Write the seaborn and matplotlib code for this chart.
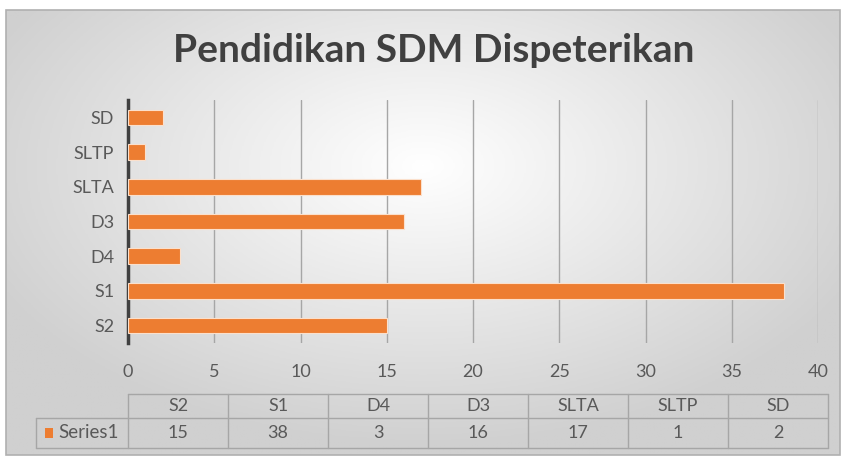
import numpy as np
import pandas as pd
import matplotlib
matplotlib.use("Agg")
import matplotlib.pyplot as plt
from matplotlib.patches import Rectangle
import seaborn as sns

# --- Dados --- #
kategori = ["S2", "S1", "D4", "D3", "SLTA", "SLTP", "SD"]
jumlah = [15, 38, 3, 16, 17, 1, 2]
nama_seri = "Series1"
judul = "Pendidikan SDM Dispeterikan"
xticks = [0, 5, 10, 15, 20, 25, 30, 35, 40]

ORANYE = "#ED7D31"
TEKS = "#595959"
W, H = 844, 463

sns.set_theme(style="white")
plt.rcParams["font.family"] = ["Lato", "DejaVu Sans"]

fig = plt.figure(figsize=(W / 100, H / 100), dpi=100)
fig.patch.set_facecolor("white")

# latar gradien (radial, terang di tengah)
bg = fig.add_axes([6 / W, 1 - 455 / H, 834 / W, 445 / H], zorder=0)
yy, xx = np.mgrid[-1:1:300j, -1:1:600j]
r = np.sqrt((xx / 1.0) ** 2 + ((yy + 0.3) / 1.1) ** 2)
bg.imshow(np.clip(r, 0, 1.2), cmap=sns.blend_palette(["#ffffff", "#d0d0d0"], as_cmap=True),
          aspect="auto", extent=[0, 1, 0, 1], vmin=0, vmax=1.15)
bg.set_axis_off()
fig.add_artist(Rectangle((6 / W, 1 - 455 / H), 834 / W, 445 / H, transform=fig.transFigure,
                         fill=False, edgecolor="#b0b0b0", lw=1.2, zorder=5))

# grafik batang
ax = fig.add_axes([128 / W, 1 - 343 / H, 690 / W, 243 / H], zorder=2)
ax.patch.set_alpha(0)
df = pd.DataFrame({"kategori": kategori, "jumlah": jumlah})
urutan = kategori[::-1]
sns.barplot(data=df, x="jumlah", y="kategori", order=urutan, color=ORANYE, saturation=1,
            width=0.45, edgecolor="#fbe0cc", linewidth=0.8, ax=ax, zorder=3)
ax.set_xlim(0, 40)
ax.set_ylim(6.5, -0.5)
ax.set_xticks(xticks)
ax.set_xlabel("")
ax.set_ylabel("")
for v in xticks[1:]:
    ax.axvline(v, color="#a6a6a6", lw=1, zorder=1)
for s in ["top", "right", "bottom"]:
    ax.spines[s].set_visible(False)
ax.spines["left"].set_color("#404040")
ax.spines["left"].set_linewidth(2.5)
ax.tick_params(axis="both", length=0, labelsize=13, colors=TEKS)
ax.tick_params(axis="x", pad=15)
ax.tick_params(axis="y", pad=10)

fig.text(434 / W, 1 - 50 / H, judul, ha="center", va="center", fontsize=28,
         fontweight="bold", color="#404040")

# tabel data
x0, cw = 128, 100
x_kiri = 36
y_top, y_mid, y_bot = 394, 418, 448
garis = dict(color="#a6a6a6", lw=1, transform=fig.transFigure)
fx = lambda p: p / W
fy = lambda p: 1 - p / H
x_kanan = x0 + cw * len(kategori)
fig.add_artist(plt.Line2D([fx(x0), fx(x_kanan)], [fy(y_top)] * 2, **garis))
fig.add_artist(plt.Line2D([fx(x_kiri), fx(x_kanan)], [fy(y_mid)] * 2, **garis))
fig.add_artist(plt.Line2D([fx(x_kiri), fx(x_kanan)], [fy(y_bot)] * 2, **garis))
fig.add_artist(plt.Line2D([fx(x_kiri), fx(x_kiri)], [fy(y_mid), fy(y_bot)], **garis))
for i in range(len(kategori) + 1):
    fig.add_artist(plt.Line2D([fx(x0 + cw * i)] * 2, [fy(y_top), fy(y_bot)], **garis))
for i, (k, v) in enumerate(zip(kategori, jumlah)):
    cx = fx(x0 + cw * i + cw / 2)
    fig.text(cx, fy((y_top + y_mid) / 2), k, ha="center", va="center", fontsize=13, color=TEKS)
    fig.text(cx, fy((y_mid + y_bot) / 2), str(v), ha="center", va="center", fontsize=13, color=TEKS)
fig.add_artist(Rectangle((fx(45), fy(438)), 8 / W, 10 / H, transform=fig.transFigure,
                         facecolor=ORANYE, edgecolor="none"))
fig.text(fx(58), fy((y_mid + y_bot) / 2), nama_seri, ha="left", va="center", fontsize=13.5, color=TEKS)

fig.savefig("out.png", dpi=100)
